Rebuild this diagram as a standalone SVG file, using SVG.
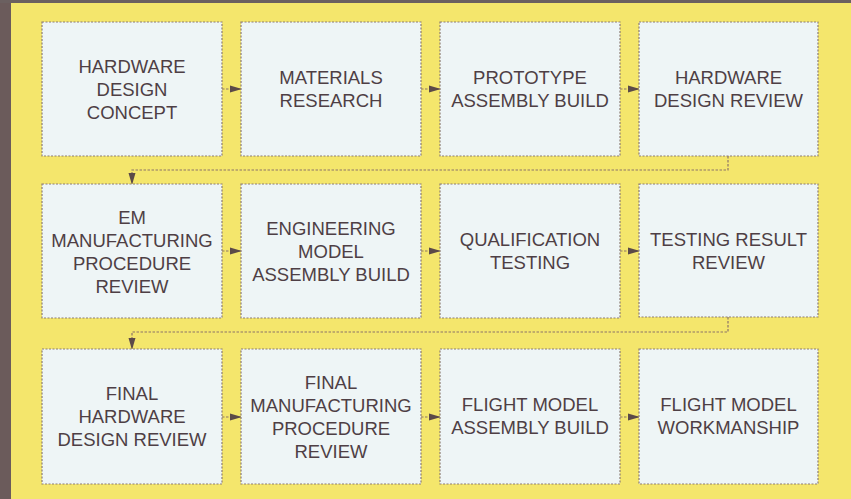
<svg xmlns="http://www.w3.org/2000/svg" width="851" height="499" viewBox="0 0 851 499">
<style>
.box{fill:#eef5f6;stroke:#8c7c72;stroke-width:1.2;stroke-dasharray:2 1.5}
.t{font-family:"Liberation Sans",Arial,sans-serif;font-size:18.5px;fill:#4e3f45;text-anchor:middle}
.c{fill:none;stroke:#8c7468;stroke-width:1.2;stroke-dasharray:2.5 1.5}
</style>
<defs>
<marker id="ah" markerWidth="12" markerHeight="8" refX="11" refY="4" orient="auto" markerUnits="userSpaceOnUse">
<path d="M0,0.5 L12,4 L0,7.5 Z" fill="#5b4a48"/>
</marker>
</defs>
<rect x="0" y="0" width="851" height="499" fill="#f4e66c"/>
<rect x="0" y="0" width="11" height="499" fill="#6b5b5b"/>
<rect x="0" y="0" width="851" height="3" fill="#6b6060"/>
<g id="connectors">
<line class="c" x1="222" y1="89" x2="241" y2="89" marker-end="url(#ah)"/>
<line class="c" x1="421" y1="89" x2="440" y2="89" marker-end="url(#ah)"/>
<line class="c" x1="620" y1="89" x2="639" y2="89" marker-end="url(#ah)"/>
<polyline class="c" points="728,156 728,170 132,170 132,184" marker-end="url(#ah)"/>
<line class="c" x1="222" y1="251" x2="241" y2="251" marker-end="url(#ah)"/>
<line class="c" x1="421" y1="251" x2="440" y2="251" marker-end="url(#ah)"/>
<line class="c" x1="620" y1="251" x2="639" y2="251" marker-end="url(#ah)"/>
<polyline class="c" points="728,317 728,332 132,332 132,349" marker-end="url(#ah)"/>
<line class="c" x1="222" y1="417" x2="241" y2="417" marker-end="url(#ah)"/>
<line class="c" x1="421" y1="417" x2="440" y2="417" marker-end="url(#ah)"/>
<line class="c" x1="620" y1="417" x2="639" y2="417" marker-end="url(#ah)"/>
</g>
<g id="n1"><rect class="box" x="42" y="22" width="180" height="134"/>
<text class="t" x="132" y="72.5">HARDWARE</text><text class="t" x="132" y="95.5">DESIGN</text><text class="t" x="132" y="118.5">CONCEPT</text></g>
<g id="n2"><rect class="box" x="241" y="22" width="180" height="134"/>
<text class="t" x="331" y="84">MATERIALS</text><text class="t" x="331" y="107">RESEARCH</text></g>
<g id="n3"><rect class="box" x="440" y="22" width="180" height="134"/>
<text class="t" x="530" y="84">PROTOTYPE</text><text class="t" x="530" y="107">ASSEMBLY BUILD</text></g>
<g id="n4"><rect class="box" x="639" y="22" width="179" height="134"/>
<text class="t" x="728.5" y="84">HARDWARE</text><text class="t" x="728.5" y="107">DESIGN REVIEW</text></g>
<g id="n5"><rect class="box" x="42" y="184" width="180" height="134"/>
<text class="t" x="132" y="224">EM</text><text class="t" x="132" y="247">MANUFACTURING</text><text class="t" x="132" y="270">PROCEDURE</text><text class="t" x="132" y="293">REVIEW</text></g>
<g id="n6"><rect class="box" x="241" y="184" width="180" height="134"/>
<text class="t" x="331" y="234.5">ENGINEERING</text><text class="t" x="331" y="257.5">MODEL</text><text class="t" x="331" y="280.5">ASSEMBLY BUILD</text></g>
<g id="n7"><rect class="box" x="440" y="184" width="180" height="134"/>
<text class="t" x="530" y="245.5">QUALIFICATION</text><text class="t" x="530" y="268.5">TESTING</text></g>
<g id="n8"><rect class="box" x="639" y="184" width="179" height="133"/>
<text class="t" x="728.5" y="245.5">TESTING RESULT</text><text class="t" x="728.5" y="268.5">REVIEW</text></g>
<g id="n9"><rect class="box" x="42" y="349" width="180" height="135"/>
<text class="t" x="132" y="399.5">FINAL</text><text class="t" x="132" y="422.5">HARDWARE</text><text class="t" x="132" y="445.5">DESIGN REVIEW</text></g>
<g id="n10"><rect class="box" x="241" y="349" width="180" height="135"/>
<text class="t" x="331" y="388.5">FINAL</text><text class="t" x="331" y="411.5">MANUFACTURING</text><text class="t" x="331" y="434.5">PROCEDURE</text><text class="t" x="331" y="457.5">REVIEW</text></g>
<g id="n11"><rect class="box" x="440" y="349" width="180" height="135"/>
<text class="t" x="530" y="411">FLIGHT MODEL</text><text class="t" x="530" y="434">ASSEMBLY BUILD</text></g>
<g id="n12"><rect class="box" x="639" y="349" width="179" height="135"/>
<text class="t" x="728.5" y="411">FLIGHT MODEL</text><text class="t" x="728.5" y="434">WORKMANSHIP</text></g>
</svg>
